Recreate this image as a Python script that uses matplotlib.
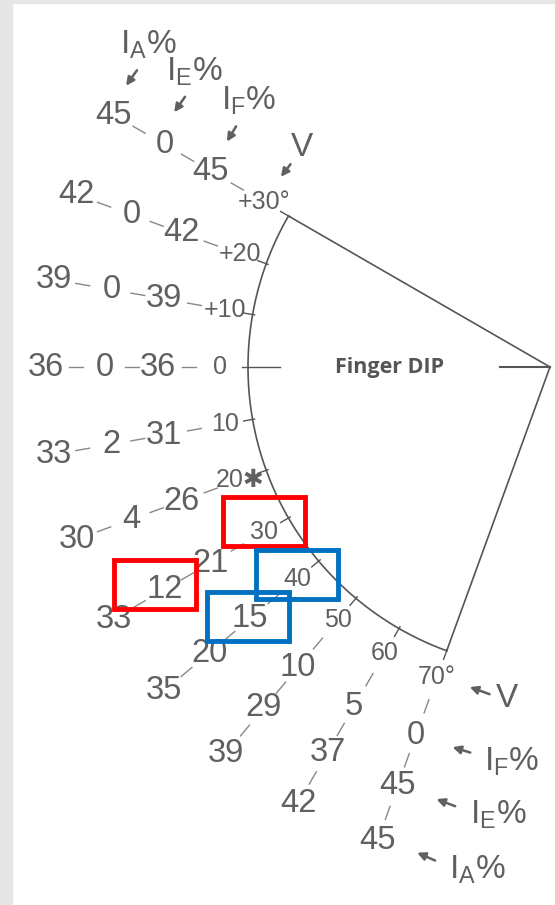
import numpy as np
import matplotlib.pyplot as plt
from matplotlib.patches import Rectangle

# range-of-motion chart: finger DIP joint, V = angle, I = impairment %
angles = [30, 20, 10, 0, -10, -20, -30, -40, -50, -60, -70]
v_labels = ['+30°', '+20', '+10', '0', '10', '20✱', '30', '40', '50', '60', '70°']
imp_flex = [45, 42, 39, 36, 31, 26, 21, 15, 10, 5, 0]
imp_ext = [0, 0, 0, 0, 2, 4, 12, 20, 29, 37, 45]
imp_ank = [45, 42, 39, 36, 33, 30, 33, 35, 39, 42, 45]

# highlighted labels: (row angle, ring index 0=V 1=IF 2=IE 3=IA, colour)
highlights = [(-30, 0, 'red'), (-30, 2, 'red'),
              (-40, 0, '#0070c0'), (-40, 1, '#0070c0')]
box_shift = [(0, 10), (-10, 5), (0, 5), (-2, 2)]

col = '#606060'
line_col = '#555555'
R_ARC = 302
R_V, R_F, R_E, R_A = 330, 392, 445, 504
FONT = ['Liberation Sans', 'DejaVu Sans']


def pt(r, a):
    t = np.deg2rad(a)
    return -r * np.cos(t), r * np.sin(t)


fig = plt.figure(figsize=(5.55, 9.05), dpi=100)
fig.patch.set_facecolor('white')
ax = fig.add_axes([0, 0, 1, 1])
ax.set_xlim(-550, 5)
ax.set_ylim(367 - 905, 367)
ax.axis('off')

# grey page edge
ax.add_patch(Rectangle((-550, -538), 12, 905, color='#e6e6e6', zorder=0))
ax.add_patch(Rectangle((-550, 364), 555, 3, color='#e6e6e6', zorder=0))

# sector outline
arc = np.linspace(-70, 30, 200)
xa, ya = pt(R_ARC, arc)
ax.plot(xa, ya, color=line_col, lw=1.2)
for a in (30, -70):
    x, y = pt(R_ARC, a)
    ax.plot([0, x], [0, y], color=line_col, lw=1.2)
ax.plot([-50, 0], [0, 0], color=line_col, lw=1.5)
ax.text(*pt(160, 0), 'Finger DIP', family='Open Sans', fontweight='bold',
        fontsize=15.5, color='#555555', ha='center', va='center')

rings = [R_F, R_E, R_A]
for i, a in enumerate(angles):
    # tick on arc
    r0, r1 = (270, 308) if a == 0 else (R_ARC - 2, R_ARC + 9)
    (x0, y0), (x1, y1) = pt(r0, a), pt(r1, a)
    ax.plot([x0, x1], [y0, y1], color=line_col, lw=1)
    # dashes between labels
    for ra, rb in [(R_V, R_F), (R_F, R_E), (R_E, R_A)]:
        m = (ra + rb) / 2
        (x0, y0), (x1, y1) = pt(m - 7, a), pt(m + 7, a)
        ax.plot([x0, x1], [y0, y1], color='#888888', lw=1)
    ax.text(*pt(R_V, a), v_labels[i], fontsize=18, color=col,
            family=FONT, ha='center', va='center')
    for r, val in zip(rings, (imp_flex[i], imp_ext[i], imp_ank[i])):
        ax.text(*pt(r, a), str(val), fontsize=23.5, color=col,
                family=FONT, ha='center', va='center')

# highlight boxes
ring_r = [R_V, R_F, R_E, R_A]
for (a, k, c), (dx, dy) in zip(highlights, box_shift):
    x, y = pt(ring_r[k], a)
    ax.add_patch(Rectangle((x + dx - 41, y + dy - 24.5), 82, 49, fill=False,
                           edgecolor=c, lw=3.5, zorder=5))

# series labels with arrows, top and bottom
names = [r'$\mathregular{I_A}$%', r'$\mathregular{I_E}$%', r'$\mathregular{I_F}$%', 'V']
name_r = [R_A, R_E, R_F, R_V]
top_text = [(35, 70), (30, 73), (38, 70), (38, 55)]
top_arrow = [((25, 47), (11, 27)), ((22, 50), (8, 30)),
             ((27, 47), (15, 27)), ((28, 40), (15, 23))]
bot_text = [(100, -29), (100, -30), (96, -26), (70, -21)]
bot_arrow = [((60, -21), (37, -11)), ((60, -22), (36, -13)),
             ((57, -18), (34, -11)), ((55, -18), (30, -9))]

for k, (name, r) in enumerate(zip(names, name_r)):
    for a, txt, arr in ((30, top_text[k], top_arrow[k]),
                        (-70, bot_text[k], bot_arrow[k])):
        x, y = pt(r, a)
        (tx, ty), (hx, hy) = arr
        ax.annotate('', xy=(x + hx, y + hy), xytext=(x + tx, y + ty),
                    arrowprops=dict(arrowstyle='-|>', color=col, lw=1.8,
                                    mutation_scale=12))
        ax.text(x + txt[0], y + txt[1], name, fontsize=24, color=col,
                family=FONT, ha='center', va='center')

plt.savefig('out.png', dpi=100)
